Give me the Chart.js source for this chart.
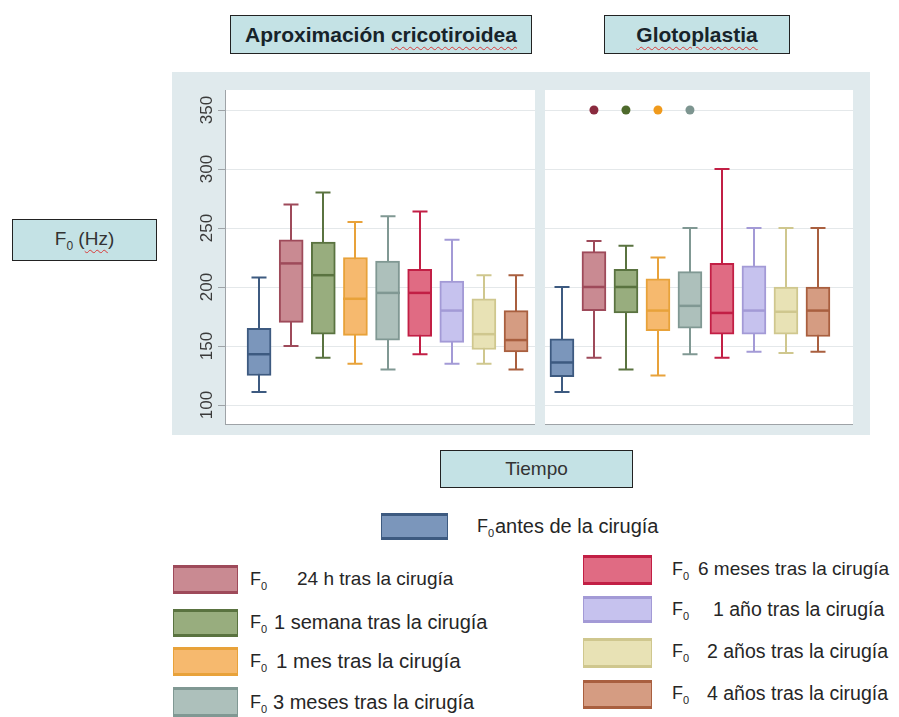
<!DOCTYPE html>
<html lang="es">
<head>
<meta charset="utf-8">
<script src="https://cdn.jsdelivr.net/npm/chart.js@4.4.1/dist/chart.umd.min.js"></script>
<style>
  html, body { margin: 0; padding: 0; background: #fff; }
  body { position: relative; width: 899px; height: 717px; overflow: hidden;
         font-family: "Liberation Sans", Arial, sans-serif; color: #2b2b2b; }
  .box { position: absolute; box-sizing: border-box; background: #c4e2e5; border: 1.5px solid #222;
         display: flex; align-items: center; justify-content: center; }
  .title { font-weight: bold; font-size: 21px; color: #17232a; }
  .label { font-size: 19px; color: #333; }
  .spell { text-decoration: underline wavy #d83a3a; text-decoration-thickness: 1px; text-underline-offset: 4px; }
  #panel { position: absolute; left: 172px; top: 72px; width: 698px; height: 363px; background: #e0eaed; }
  canvas { position: absolute; }
  .sw { position: absolute; box-sizing: border-box; }
  .lt { position: absolute; line-height: 22px; white-space: nowrap; color: #262626; }
  .f0 { font-size: 18px; }
  .f0 sub { font-size: 11px; vertical-align: -5px; }
</style>
</head>
<body>

<div class="box title" style="left:230px; top:15px; width:302px; height:39px;">
  <span>Aproximación <span class="spell">cricotiroidea</span></span>
</div>
<div class="box title" style="left:604px; top:15px; width:186px; height:39px;">
  <span class="spell">Glotoplastia</span>
</div>
<div class="box label" style="left:12px; top:219px; width:145px; height:42px;">
  <span>F<sub style="font-size:12px; vertical-align:-5px;">0</sub> (<span class="spell">Hz</span>)</span>
</div>
<div class="box label" style="left:440px; top:450px; width:193px; height:38px;">
  <span>Tiempo</span>
</div>

<div id="panel"></div>
<canvas id="acChart" width="368" height="363" style="left:172px; top:72px;"></canvas>
<canvas id="gpChart" width="330" height="363" style="left:540px; top:72px;"></canvas>

<div id="legend"></div>

<script>
// categorías (momento de la medida de F0)
const categories = [
    'antes de la cirugía',
    '24 h tras la cirugía',
    '1 semana tras la cirugía',
    '1 mes tras la cirugía',
    '3 meses tras la cirugía',
    '6 meses tras la cirugía',
    '1 año tras la cirugía',
    '2 años tras la cirugía',
    '4 años tras la cirugía'
];
const yTicks = [100, 150, 200, 250, 300, 350];

// Aproximación cricotiroidea
const acMin = [111, 150, 140, 135, 130, 143, 135, 135, 130];
const acQ1  = [125, 170, 160, 159, 155, 158, 153, 147, 145];
const acMed = [143, 220, 210, 190, 195, 195, 180, 160, 155];
const acQ3  = [165, 240, 238, 225, 222, 215, 205, 190, 180];
const acMax = [208, 270, 280, 255, 260, 264, 240, 210, 210];
const acOut = [null, null, null, null, null, null, null, null, null];

// Glotoplastia
const gpMin = [111, 140, 130, 125, 143, 140, 145, 144, 145];
const gpQ1  = [124, 180, 178, 163, 165, 160, 160, 160, 158];
const gpMed = [136, 200, 200, 180, 184, 178, 180, 179, 180];
const gpQ3  = [156, 230, 215, 207, 213, 220, 218, 200, 200];
const gpMax = [200, 239, 235, 225, 250, 300, 250, 250, 250];
const gpOut = [null, 350, 350, 350, 350, null, null, null, null];

const fillColors    = ['#7b96bb', '#c98a92', '#98ad7e', '#f6b96e', '#adc0bb', '#e06b83', '#c6c2ee', '#e8e2b5', '#d59c82'];
const lineColors    = ['#3d5a80', '#9e4a5a', '#5a7340', '#e8a23a', '#809893', '#c21f45', '#a39ad6', '#cfc78e', '#a95f3f'];
const outlierColors = ['#3d5a80', '#8a2a3e', '#4e6a2c', '#f09a1c', '#7d9590', '#c21f45', '#a39ad6', '#cfc78e', '#a95f3f'];

function makeBoxPlugin(mins, meds, maxs, showTicks) {
    return {
        id: 'boxParts',
        beforeDraw(chart) {
            const { ctx, chartArea: a, scales: { y } } = chart;
            ctx.save();
            ctx.fillStyle = '#ffffff';
            ctx.fillRect(a.left, a.top, a.right - a.left, a.bottom - a.top);
            ctx.strokeStyle = '#e4e8ea';
            ctx.lineWidth = 1;
            yTicks.forEach(t => {
                const py = Math.round(y.getPixelForValue(t)) + 0.5;
                ctx.beginPath(); ctx.moveTo(a.left, py); ctx.lineTo(a.right, py); ctx.stroke();
            });
            ctx.strokeStyle = '#9ea3a7';
            ctx.beginPath(); ctx.moveTo(a.left, a.bottom - 0.5); ctx.lineTo(a.right, a.bottom - 0.5); ctx.stroke();
            if (showTicks) {
                ctx.beginPath(); ctx.moveTo(a.left + 0.5, a.top); ctx.lineTo(a.left + 0.5, a.bottom); ctx.stroke();
                yTicks.forEach(t => {
                    const py = Math.round(y.getPixelForValue(t)) + 0.5;
                    ctx.beginPath(); ctx.moveTo(a.left - 7, py); ctx.lineTo(a.left, py); ctx.stroke();
                });
            }
            ctx.restore();
        },
        beforeDatasetsDraw(chart) {
            const { ctx, scales: { x, y } } = chart;
            ctx.save();
            ctx.lineWidth = 2;
            mins.forEach((mn, i) => {
                const px = Math.round(x.getPixelForValue(i + 1));
                const top = y.getPixelForValue(maxs[i]);
                const bot = y.getPixelForValue(mn);
                ctx.strokeStyle = lineColors[i];
                ctx.beginPath();
                ctx.moveTo(px, top); ctx.lineTo(px, bot);
                ctx.moveTo(px - 7.5, top); ctx.lineTo(px + 7.5, top);
                ctx.moveTo(px - 7.5, bot); ctx.lineTo(px + 7.5, bot);
                ctx.stroke();
            });
            ctx.restore();
        },
        afterDatasetsDraw(chart) {
            const { ctx, scales: { x, y } } = chart;
            ctx.save();
            ctx.lineWidth = 2.5;
            meds.forEach((m, i) => {
                const px = Math.round(x.getPixelForValue(i + 1));
                const py = y.getPixelForValue(m);
                ctx.strokeStyle = lineColors[i];
                ctx.beginPath(); ctx.moveTo(px - 12, py); ctx.lineTo(px + 12, py); ctx.stroke();
            });
            ctx.restore();
        },
        afterDraw(chart) {
            if (!showTicks) return;
            const { ctx, chartArea: a, scales: { y } } = chart;
            ctx.save();
            ctx.fillStyle = '#3a3a3a';
            ctx.font = '17px "Liberation Sans", Arial, sans-serif';
            ctx.textAlign = 'center';
            ctx.textBaseline = 'middle';
            yTicks.forEach(t => {
                ctx.save();
                ctx.translate(a.left - 18, y.getPixelForValue(t));
                ctx.rotate(-Math.PI / 2);
                ctx.fillText(String(t), 0, 0);
                ctx.restore();
            });
            ctx.restore();
        }
    };
}

function drawBoxChart(id, mins, q1s, meds, q3s, maxs, outs, xMin, xMax, showTicks, padding) {
    const outIdx = outs.map((v, i) => v == null ? -1 : i).filter(i => i >= 0);
    const ctx = document.getElementById(id).getContext('2d');
    return new Chart(ctx, {
        type: 'bar',
        data: {
            datasets: [{
                type: 'bar',
                data: categories.map((c, i) => ({ x: i + 1, y: [q1s[i], q3s[i]] })),
                backgroundColor: fillColors,
                borderColor: lineColors,
                borderWidth: 2,
                borderSkipped: false,
                barThickness: 24
            }, {
                type: 'scatter',
                data: outIdx.map(i => ({ x: i + 1, y: outs[i] })),
                pointBackgroundColor: outIdx.map(i => outlierColors[i]),
                pointBorderWidth: 0,
                pointRadius: 4.5
            }]
        },
        options: {
            responsive: false,
            animation: false,
            layout: { padding: padding },
            plugins: { legend: { display: false }, tooltip: { enabled: false } },
            scales: {
                x: { type: 'linear', min: xMin, max: xMax, offset: false, display: false },
                y: { min: 83, max: 367, display: false }
            }
        },
        plugins: [makeBoxPlugin(mins, meds, maxs, showTicks)]
    });
}

drawBoxChart('acChart', acMin, acQ1, acMed, acQ3, acMax, acOut, -0.06, 9.59, true,
    { left: 53, right: 5, top: 18, bottom: 10 });
drawBoxChart('gpChart', gpMin, gpQ1, gpMed, gpQ3, gpMax, gpOut, 0.47, 10.095, false,
    { left: 5, right: 17, top: 18, bottom: 10 });

// leyenda: [swatch x, y, w, h, F x, texto x, centro y, tamaño de letra]
const legendLayout = [
    [381, 513, 67, 27, 477, 495, 527, 20],
    [173, 565, 65, 29, 250, 297, 580, 19],
    [173, 609, 65, 28, 250, 274, 623, 20],
    [173, 647, 65, 29, 250, 276, 662, 20.5],
    [173, 687, 65, 30, 250, 273, 703, 20],
    [583, 555, 69, 30, 672, 698, 570, 19],
    [583, 596, 69, 27, 672, 713, 610, 19.5],
    [583, 638, 69, 30, 672, 707, 652, 19.5],
    [583, 680, 69, 29, 672, 707, 694, 19.5]
];
const legend = document.getElementById('legend');
legend.innerHTML = categories.map((c, i) => {
    const [sx, sy, sw, sh, fx, tx, cy, fs] = legendLayout[i];
    return `
        <div class="sw" style="left:${sx}px; top:${sy}px; width:${sw}px; height:${sh}px;
             background:${fillColors[i]}; border:1px solid ${lineColors[i]};
             border-top-width:3px; border-bottom-width:3px;"></div>
        <div class="lt f0" style="left:${fx}px; top:${cy - 12}px;">F<sub>0</sub></div>
        <div class="lt" style="left:${tx}px; top:${cy - 12}px; font-size:${fs}px;">${c}</div>`;
}).join('');
</script>
</body>
</html>
